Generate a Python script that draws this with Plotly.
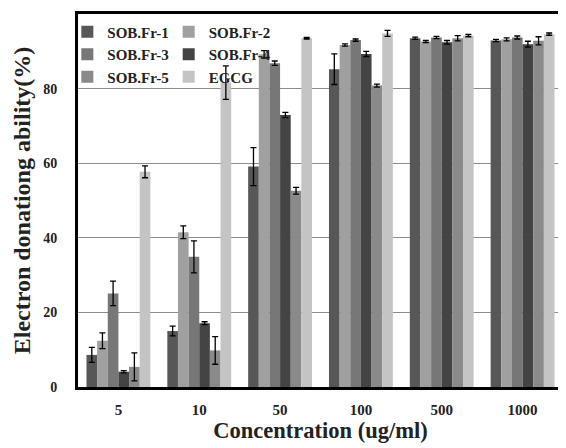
import plotly.graph_objects as go

categories = ["5", "10", "50", "100", "500", "1000"]
series_names = ["SOB.Fr-1", "SOB.Fr-2", "SOB.Fr-3", "SOB.Fr-4", "SOB.Fr-5", "EGCG"]

fr1 = [8.6, 15.0, 59.1, 85.2, 93.5, 92.9]
fr2 = [12.4, 41.5, 89.2, 91.7, 92.6, 93.2]
fr3 = [25.1, 34.9, 86.8, 93.0, 93.7, 93.7]
fr4 = [4.1, 17.1, 72.9, 89.3, 92.4, 91.9]
fr5 = [5.4, 9.8, 52.6, 80.8, 93.5, 92.8]
egcg = [57.7, 81.6, 93.5, 94.8, 94.2, 94.6]

fr1_err = [2.0, 1.3, 5.1, 4.1, 0.3, 0.3]
fr2_err = [2.1, 1.7, 1.0, 0.3, 0.3, 0.4]
fr3_err = [3.3, 4.3, 0.6, 0.3, 0.3, 0.4]
fr4_err = [0.3, 0.4, 0.7, 0.7, 0.5, 0.8]
fr5_err = [3.75, 3.7, 0.9, 0.4, 0.7, 1.1]
egcg_err = [1.6, 4.5, 0.2, 0.8, 0.3, 0.3]

values = [fr1, fr2, fr3, fr4, fr5, egcg]
errors = [fr1_err, fr2_err, fr3_err, fr4_err, fr5_err, egcg_err]
colors = ["#575757", "#a0a0a0", "#777777", "#444444", "#8a8a8a", "#c4c4c4"]
legend_ids = ["legend", "legend2", "legend", "legend2", "legend", "legend2"]

font_family = "Liberation Serif"

fig = go.Figure()
for name, v, e, c, lg in zip(series_names, values, errors, colors, legend_ids):
    fig.add_trace(go.Bar(
        x=categories, y=v, name=name, legend=lg,
        marker=dict(color=c, line=dict(width=0)),
        error_y=dict(type="data", array=e, visible=True, color="black", thickness=1.3, width=3),
    ))

legend_common = dict(
    bgcolor="rgba(0,0,0,0)",
    font=dict(family=font_family, size=15, color="#222", weight="bold"),
    tracegroupgap=0, itemwidth=30, yanchor="top", xanchor="left",
)

# page body adds an 8px offset, so the figure is 558x440
fig.update_layout(
    width=558, height=440,
    margin=dict(l=70, r=3, t=6, b=61),
    paper_bgcolor="white", plot_bgcolor="white",
    barmode="group", bargap=0.21, bargroupgap=0,
    font=dict(family=font_family, color="#222"),
    legend=dict(x=-0.022, y=0.996, **legend_common),
    legend2=dict(x=0.187, y=0.996, **legend_common),
    xaxis=dict(
        automargin=False,
        showline=True, linecolor="black", linewidth=3, mirror=True,
        tickfont=dict(family=font_family, size=15, color="#222", weight="bold"),
        ticklabelstandoff=7,
        title=dict(text="<b>Concentration (ug/ml)</b>", font=dict(family=font_family, size=22.5, color="#222"), standoff=6),
        ticks="",
    ),
    yaxis=dict(
        automargin=False,
        range=[0, 100], tickvals=[0, 20, 40, 60, 80, 100],
        showline=True, linecolor="black", linewidth=3, mirror=True,
        showgrid=True, gridcolor="#8c8c8c", gridwidth=1.2,
        zeroline=False,
        tickfont=dict(family=font_family, size=14, color="#222", weight="bold"),
        ticklabelstandoff=15,
        title=dict(text="<b>Electron donationg ability(%)</b>", font=dict(family=font_family, size=24, color="#222"), standoff=6),
        ticks="",
    ),
    showlegend=True,
)

fig.write_html("out.html")
